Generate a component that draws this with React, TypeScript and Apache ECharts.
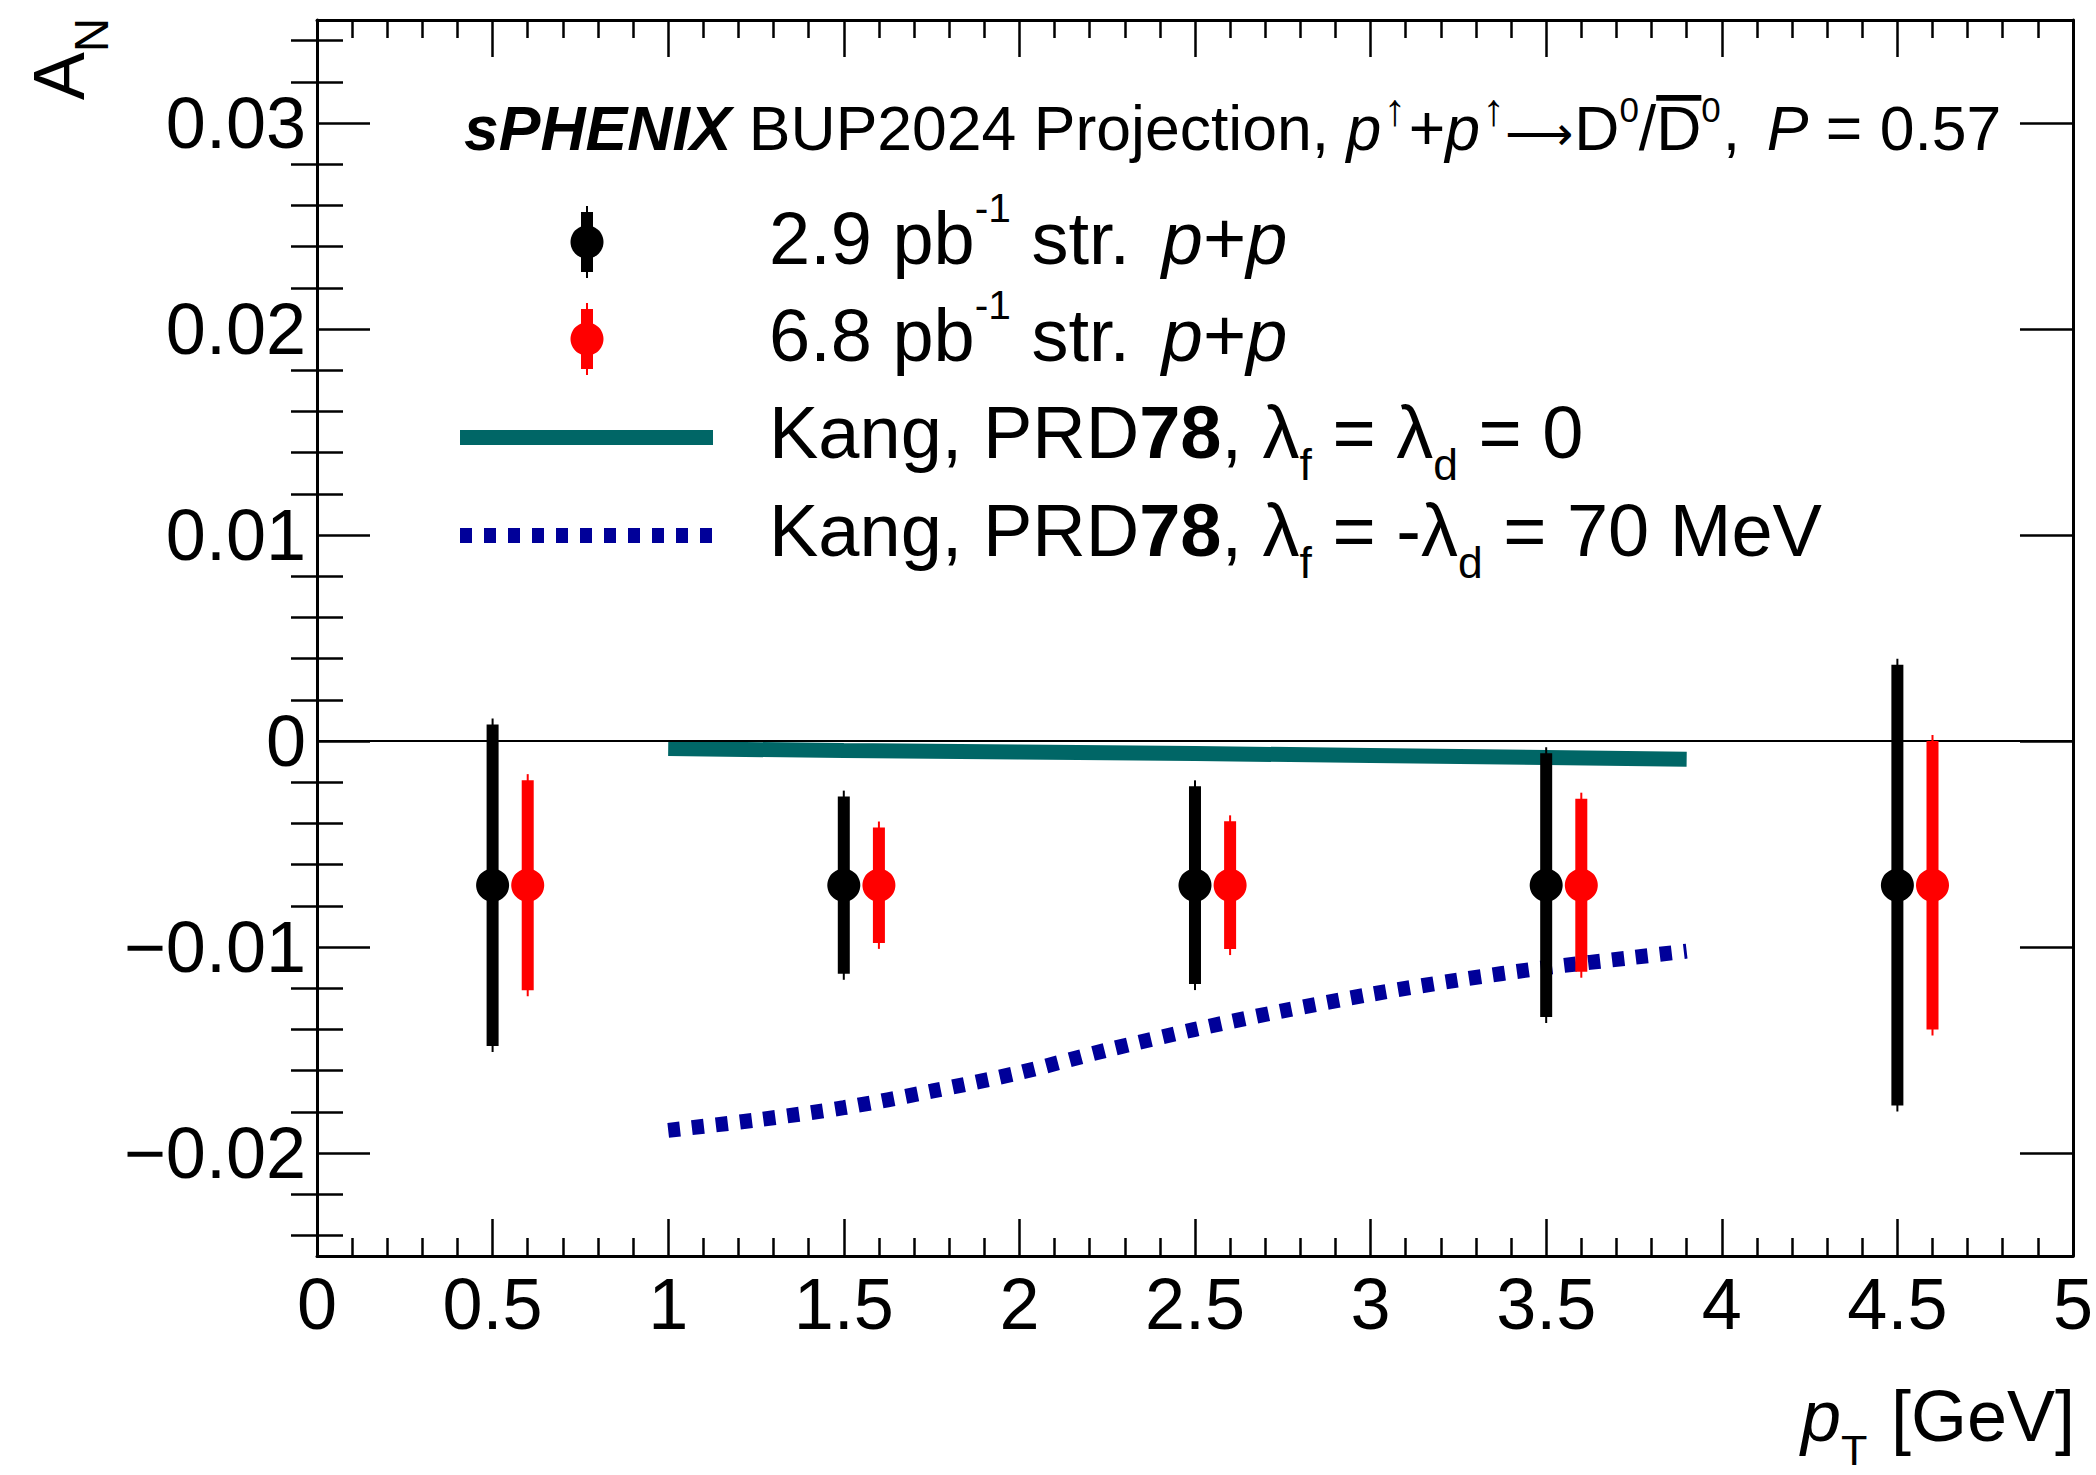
import React, { useEffect, useRef } from "react";
import * as echarts from "echarts";

const FONT = '"Liberation Sans", Arial, Helvetica, "DejaVu Sans", sans-serif';

// data points (2.9 pb^-1 and 6.8 pb^-1 projections)
const ptX29 = [0.5, 1.5, 2.5, 3.5, 4.5];
const ptY29 = [-0.007, -0.007, -0.007, -0.007, -0.007];
const ptE29 = [0.0078, 0.0043, 0.0048, 0.0064, 0.0107];
const ptX68 = [0.6, 1.6, 2.6, 3.6, 4.6];
const ptY68 = [-0.007, -0.007, -0.007, -0.007, -0.007];
const ptE68 = [0.0051, 0.0028, 0.0031, 0.0042, 0.007];

// theory curves
const tealX = [1.0, 1.5, 2.0, 2.5, 3.0, 3.5, 3.9];
const tealY = [-0.00037, -0.00046, -0.00053, -0.00061, -0.0007, -0.0008, -0.00088];
const blueX = [1.0, 1.25, 1.5, 1.75, 2.0, 2.25, 2.5, 2.75, 3.0, 3.25, 3.5, 3.75, 3.9];
const blueY = [-0.0189, -0.0184, -0.0178, -0.017, -0.0161, -0.015, -0.014, -0.0131, -0.0123, -0.0116, -0.011, -0.0105, -0.0102];

// axis ticks
const xMin = 0;
const xMax = 5;
const xInterval = 0.5;
const yMin = -0.025;
const yMax = 0.035;
const yMajorTicks = [-0.02, -0.01, 0, 0.01, 0.02, 0.03];
const yMinorTicks = [
  -0.024, -0.022, -0.018, -0.016, -0.014, -0.012, -0.008, -0.006, -0.004, -0.002,
  0.002, 0.004, 0.006, 0.008, 0.012, 0.014, 0.016, 0.018, 0.022, 0.024, 0.026, 0.028, 0.032, 0.034,
];

type Seg = { t: string; i?: boolean; b?: boolean; s?: number; dy?: number; bar?: boolean; gap?: number; pre?: number };

const BASE_OFF = 0.3465;
let mctx: CanvasRenderingContext2D | null = null;
function measure(t: string, size: number, i?: boolean, b?: boolean) {
  if (!mctx) mctx = document.createElement("canvas").getContext("2d");
  mctx!.font = `${i ? "italic " : ""}${b ? "bold " : ""}${size}px ${FONT}`;
  return mctx!.measureText(t).width;
}

function layoutText(segs: Seg[], x0: number, base: number, size: number, align: "left" | "right", color = "#000") {
  const items = segs.map((sg) => {
    const fs = size * (sg.s ?? 1);
    const pre = (sg.pre ?? 0) * size;
    const w = pre + measure(sg.t, fs, sg.i, sg.b) + (sg.gap ?? 0) * size;
    const lead = sg.t.length - sg.t.replace(/^\s+/, "").length;
    const leadW = pre + (lead ? measure(sg.t.slice(0, lead), fs, sg.i, sg.b) : 0);
    const txtW = measure(sg.t.trim(), fs, sg.i, sg.b);
    return { ...sg, fs, w, leadW, txtW };
  });
  const total = items.reduce((a, it) => a + it.w, 0);
  let x = align === "right" ? x0 - total : x0;
  const els: any[] = [];
  for (const it of items) {
    const yb = base + (it.dy ?? 0) * size;
    const txt = it.t.trim();
    if (txt.length) {
      els.push({
        type: "text",
        x: x + it.leadW,
        y: yb - BASE_OFF * it.fs,
        silent: true,
        style: {
          text: txt,
          fontSize: it.fs,
          fontFamily: FONT,
          fontStyle: it.i ? "italic" : "normal",
          fontWeight: it.b ? "bold" : "normal",
          fill: color,
          align: "left",
          verticalAlign: "middle",
        },
      });
    }
    if (it.bar) {
      els.push({
        type: "rect",
        silent: true,
        shape: { x: x + it.leadW, y: yb - 0.88 * it.fs, width: it.txtW, height: 0.09 * it.fs },
        style: { fill: color },
      });
    }
    x += it.w;
  }
  return els;
}

const headerSegs: Seg[] = [
  { t: "sPHENIX", i: true, b: true },
  { t: " BUP2024 Projection, " },
  { t: "p", i: true },
  { t: "\u2191", s: 0.72, dy: -0.4, pre: 0.04, gap: 0.04 },
  { t: "+" },
  { t: "p", i: true },
  { t: "\u2191", s: 0.72, dy: -0.4, pre: 0.04 },
  { t: "\u27F6", s: 0.76, dy: 0.0, gap: 0.02 },
  { t: "D" },
  { t: "0", s: 0.56, dy: -0.46 },
  { t: "/" },
  { t: "D", bar: true },
  { t: "0", s: 0.56, dy: -0.46, gap: 0.03 },
  { t: ", ", gap: 0.15 },
  { t: "P", i: true },
  { t: " = 0.57" },
];
const leg1Segs: Seg[] = [
  { t: "2.9 pb" },
  { t: "-1", s: 0.55, dy: -0.57 },
  { t: " str. ", gap: 0.15 },
  { t: "p", i: true },
  { t: "+" },
  { t: "p", i: true },
];
const leg2Segs: Seg[] = [
  { t: "6.8 pb" },
  { t: "-1", s: 0.55, dy: -0.57 },
  { t: " str. ", gap: 0.15 },
  { t: "p", i: true },
  { t: "+" },
  { t: "p", i: true },
];
const leg3Segs: Seg[] = [
  { t: "Kang, PRD" },
  { t: "78", b: true },
  { t: ", \u03bb" },
  { t: "f", s: 0.6, dy: 0.3 },
  { t: " = \u03bb" },
  { t: "d", s: 0.6, dy: 0.3 },
  { t: " = 0" },
];
const leg4Segs: Seg[] = [
  { t: "Kang, PRD" },
  { t: "78", b: true },
  { t: ", \u03bb" },
  { t: "f", s: 0.6, dy: 0.3 },
  { t: " = -\u03bb" },
  { t: "d", s: 0.6, dy: 0.3 },
  { t: " = 70 MeV" },
];
const xTitleSegs: Seg[] = [
  { t: "p", i: true },
  { t: "T", s: 0.6, dy: 0.33, gap: 0.05 },
  { t: " [GeV]" },
];
const yTitleSegs: Seg[] = [
  { t: "A" },
  { t: "N", s: 0.66, dy: 0.33 },
];

const TEAL = "#006666";
const BLUE = "#000099";
const RED = "#ff0000";

function errRender(color: string) {
  return (params: any, api: any) => {
    const x = api.value(0);
    const y = api.value(1);
    const e = api.value(2);
    const top = api.coord([x, y + e]);
    const bot = api.coord([x, y - e]);
    return {
      type: "group",
      children: [
        { type: "line", shape: { x1: top[0], y1: top[1] - 6, x2: top[0], y2: bot[1] + 6 }, style: { stroke: color, lineWidth: 2 } },
        { type: "rect", shape: { x: top[0] - 6, y: top[1], width: 12, height: bot[1] - top[1] }, style: { fill: color } },
      ],
    };
  };
}

function legendMarker(cx: number, cy: number, color: string) {
  return [
    { type: "line", silent: true, shape: { x1: cx, y1: cy - 36, x2: cx, y2: cy + 36 }, style: { stroke: color, lineWidth: 2 } },
    { type: "rect", silent: true, shape: { x: cx - 6, y: cy - 30, width: 12, height: 60 }, style: { fill: color } },
    { type: "circle", silent: true, shape: { cx, cy, r: 16.5 }, style: { fill: color } },
  ];
}

const yFmt = (v: number) => (Math.abs(v) < 1e-9 ? "0" : (v < 0 ? "\u2212" : "") + Math.abs(v).toFixed(2));

export default function App() {
  const ref = useRef<HTMLDivElement>(null);
  useEffect(() => {
    document.body.style.margin = "0";
    const chart = echarts.init(ref.current!, null, { renderer: "svg" });
    const axisLineStyle = { color: "#000", width: 3 };
    const tickStyle = { color: "#000", width: 2.5 };
    const xAxisBase = {
      type: "value",
      min: xMin,
      max: xMax,
      interval: xInterval,
      axisLine: { show: true, onZero: false, lineStyle: axisLineStyle },
      axisTick: { show: true, inside: true, length: 37, lineStyle: tickStyle },
      minorTick: { show: true, splitNumber: 5, length: 18, lineStyle: tickStyle },
      splitLine: { show: false },
      minorSplitLine: { show: false },
    };
    const yAxisBase = {
      type: "value",
      min: yMin,
      max: yMax,
      splitLine: { show: false },
    };
    const graphic: any[] = [
      ...layoutText(headerSegs, 464, 150, 62.5, "left"),
      ...layoutText(leg1Segs, 769, 264, 74, "left"),
      ...layoutText(leg2Segs, 769, 361, 74, "left"),
      ...layoutText(leg3Segs, 769, 458, 74, "left"),
      ...layoutText(leg4Segs, 769, 556, 74, "left"),
      ...layoutText(xTitleSegs, 2075, 1441, 72, "right"),
      { type: "group", x: 84, y: 18, rotation: Math.PI / 2, children: layoutText(yTitleSegs, 0, 0, 72, "right") },
      ...legendMarker(587, 242, "#000"),
      ...legendMarker(587, 339, RED),
      { type: "rect", silent: true, shape: { x: 460, y: 430, width: 253, height: 15 }, style: { fill: TEAL } },
      {
        type: "line",
        silent: true,
        shape: { x1: 460, y1: 535.5, x2: 713, y2: 535.5 },
        style: { stroke: BLUE, lineWidth: 15, lineDash: [12, 12], lineCap: "butt" },
      },
    ];
    chart.setOption({
      animation: false,
      backgroundColor: "#fff",
      grid: { left: 317, right: 21, top: 20, bottom: 219, containLabel: false },
      xAxis: [
        {
          ...xAxisBase,
          position: "bottom",
          axisLabel: { show: true, fontSize: 72, fontFamily: FONT, color: "#000", margin: 12, showMinLabel: true, showMaxLabel: true },
        },
        { ...xAxisBase, position: "top", axisLabel: { show: false } },
      ],
      yAxis: [
        {
          ...yAxisBase,
          position: "left",
          axisLine: { show: true, onZero: false, lineStyle: axisLineStyle },
          axisTick: { show: true, inside: true, length: 53, lineStyle: tickStyle, customValues: yMajorTicks },
          axisLabel: { show: true, fontSize: 72, fontFamily: FONT, color: "#000", margin: 11, customValues: yMajorTicks, formatter: yFmt },
        },
        {
          ...yAxisBase,
          position: "left",
          axisLine: { show: false },
          axisTick: { show: true, inside: true, length: 26, lineStyle: tickStyle, customValues: yMinorTicks },
          axisLabel: { show: false },
        },
        {
          ...yAxisBase,
          position: "right",
          axisLine: { show: true, onZero: false, lineStyle: axisLineStyle },
          axisTick: { show: true, inside: true, length: 53, lineStyle: tickStyle, customValues: yMajorTicks },
          axisLabel: { show: false },
        },
        {
          ...yAxisBase,
          position: "right",
          axisLine: { show: false },
          axisTick: { show: true, inside: true, length: 26, lineStyle: tickStyle, customValues: yMinorTicks },
          axisLabel: { show: false },
        },
      ],
      series: [
        {
          type: "line",
          name: "Kang lambda=0",
          data: tealX.map((x, i) => [x, tealY[i]]),
          showSymbol: false,
          symbol: "none",
          lineStyle: { color: TEAL, width: 15, cap: "butt" },
          z: 2,
          markLine: {
            silent: true,
            symbol: ["none", "none"],
            label: { show: false },
            lineStyle: { color: "#000", width: 2, type: "solid" },
            data: [{ yAxis: 0 }],
            animation: false,
          },
        },
        {
          type: "line",
          name: "Kang lambda=70",
          data: blueX.map((x, i) => [x, blueY[i]]),
          showSymbol: false,
          symbol: "none",
          smooth: 0.3,
          lineStyle: { color: BLUE, width: 15, type: [12, 12], cap: "butt" },
          z: 2,
        },
        {
          type: "custom",
          name: "err29",
          data: ptX29.map((x, i) => [x, ptY29[i], ptE29[i]]),
          encode: { x: 0, y: 1 },
          renderItem: errRender("#000"),
          z: 5,
        },
        {
          type: "custom",
          name: "err68",
          data: ptX68.map((x, i) => [x, ptY68[i], ptE68[i]]),
          encode: { x: 0, y: 1 },
          renderItem: errRender(RED),
          z: 5,
        },
        {
          type: "scatter",
          name: "2.9",
          data: ptX29.map((x, i) => [x, ptY29[i]]),
          symbol: "circle",
          symbolSize: 33,
          itemStyle: { color: "#000", opacity: 1 },
          z: 6,
        },
        {
          type: "scatter",
          name: "6.8",
          data: ptX68.map((x, i) => [x, ptY68[i]]),
          symbol: "circle",
          symbolSize: 33,
          itemStyle: { color: RED, opacity: 1 },
          z: 6,
        },
      ],
      graphic,
    });
    return () => chart.dispose();
  }, []);
  return <div ref={ref} style={{ width: 2096, height: 1475 }} />;
}
